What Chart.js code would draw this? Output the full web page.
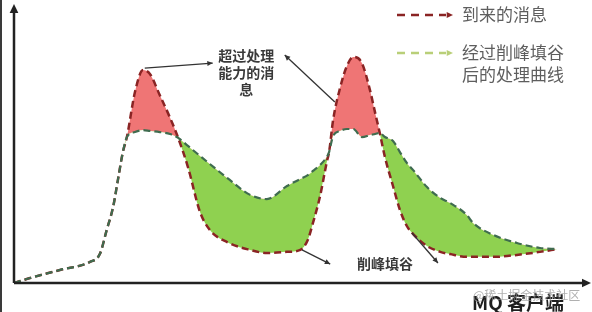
<!DOCTYPE html>
<html>
<head>
<meta charset="utf-8">
<script src="https://cdn.jsdelivr.net/npm/chart.js@4.4.1/dist/chart.umd.min.js"></script>
<style>
html,body{margin:0;padding:0;background:#fff;}
#wrap{position:relative;width:592px;height:312px;}
canvas{display:block;}
</style>
</head>
<body>
<div id="wrap"><canvas id="c" width="592" height="312"></canvas></div>
<script>
// time axis (arbitrary units 0..100)
const times = [0,2.8,8.0,13.2,14.9,16.1,17.2,18.1,18.9,19.6,21.0,22.4,23.6,25.3,27.1,28.5,30.2,32.3,34.0,37.0,41.0,43.9,47.4,49.7,51.0,51.9,53.1,54.3,54.7,55.4,56.6,57.8,58.9,60.4,61.8,62.7,63.5,64.4,65.8,67.0,68.2,69.3,71.7,74.0,75.7,78.6,79.7,83.2,87.3,91.3,94.3];
// incoming messages (red dashed)
const incoming = [0,1.8,4.7,7.6,10.4,19.1,27.3,37.8,47.1,52.5,68.7,76.6,75.2,67.6,59.4,52.2,41.7,25.5,19.1,14.7,11.9,10.8,11.2,11.9,15.5,21.6,30.9,43.5,47.1,58.6,70.1,78.1,81.3,79.1,69.4,61.2,54.0,45.3,34.9,26.3,20.5,17.6,13.3,11.2,10.4,9.4,9.4,9.4,10.1,11.2,12.2];
// processed curve after peak shaving / valley filling (green dashed)
const processed = [0,1.8,4.7,7.6,10.4,19.1,27.3,37.8,47.1,52.5,54.3,55.0,54.7,54.3,53.6,52.2,49.3,45.7,42.8,37.8,31.7,30.2,34.9,37.4,38.8,40.3,42.4,45.3,47.1,52.9,54.7,55.4,55.4,52.5,53.2,53.6,54.0,52.5,51.1,47.1,43.2,40.6,34.5,30.6,28.8,24.5,21.6,17.3,14.4,12.6,12.2];

const seriesNames = ['到来的消息', '经过削峰填谷后的处理曲线'];
const legendLines = [['到来的消息'], ['经过削峰填谷', '后的处理曲线']];
const noteOver = ['超过处理', '能力的消', '息'];
const noteValley = '削峰填谷';
const xAxisLabel = ['MQ', '客户端'];
const watermark = '@稀土掘金技术社区';

const RED_LINE = '#8a2424';
const GREEN_LINE = '#3f6c4f';
const RED_FILL = '#ef7575';
const GREEN_FILL = '#8fd150';

function arrowHead(ctx, x1, y1, x2, y2, size) {
  const a = Math.atan2(y2 - y1, x2 - x1);
  ctx.beginPath();
  ctx.moveTo(x2, y2);
  ctx.lineTo(x2 - size * Math.cos(a - 0.45), y2 - size * Math.sin(a - 0.45));
  ctx.lineTo(x2 - size * Math.cos(a + 0.45), y2 - size * Math.sin(a + 0.45));
  ctx.closePath();
  ctx.fill();
}

const decor = {
  id: 'decor',
  afterDraw(chart) {
    const ctx = chart.ctx;
    const xs = chart.scales.x, ys = chart.scales.y;
    const X = v => xs.getPixelForValue(v), Y = v => ys.getPixelForValue(v);
    const ca = chart.chartArea;
    ctx.save();
    // image left border
    ctx.fillStyle = '#3a3a3a';
    ctx.fillRect(0, 0, 2, 312);
    // axes
    ctx.strokeStyle = '#222'; ctx.fillStyle = '#222'; ctx.lineWidth = 2.5;
    ctx.beginPath();
    ctx.moveTo(ca.left, ca.bottom); ctx.lineTo(ca.left, ca.top + 6);
    ctx.moveTo(ca.left, ca.bottom); ctx.lineTo(ca.right - 6, ca.bottom);
    ctx.stroke();
    arrowHead(ctx, ca.left, ca.bottom, ca.left, ca.top - 1, 10);
    arrowHead(ctx, ca.left, ca.bottom, ca.right + 1, ca.bottom, 10);

    // annotation leader lines
    ctx.strokeStyle = '#333'; ctx.fillStyle = '#333'; ctx.lineWidth = 1.3;
    const leaders = [
      [22.7, 77.3, 34.5, 79.1],
      [55.7, 65.1, 47.0, 82.0],
      [50.0, 11.9, 54.9, 6.8],
      [69.1, 18.0, 73.6, 7.2]
    ];
    leaders.forEach(l => {
      const x1 = X(l[0]), y1 = Y(l[1]), x2 = X(l[2]), y2 = Y(l[3]);
      ctx.beginPath(); ctx.moveTo(x1, y1); ctx.lineTo(x2, y2); ctx.stroke();
      arrowHead(ctx, x1, y1, x2, y2, 6);
    });

    // annotation texts
    ctx.textAlign = 'center'; ctx.textBaseline = 'middle';
    ctx.fillStyle = '#3a3a3a';
    ctx.font = 'bold 14px "Noto Sans CJK SC"';
    const cx = X(40.3);
    noteOver.forEach((t, i) => ctx.fillText(t, cx, Y(81.7) + i * 17));
    ctx.fillText(noteValley, X(64.4), Y(6.8));

    // legend
    ctx.textAlign = 'left';
    ctx.font = '17px "Noto Sans CJK SC"';
    const legendItems = [
      {color: RED_LINE, y: 15, lines: legendLines[0]},
      {color: '#b9cf78', y: 53, lines: legendLines[1]}
    ];
    legendItems.forEach(it => {
      ctx.strokeStyle = it.color; ctx.fillStyle = it.color; ctx.lineWidth = 2.5;
      ctx.setLineDash([8, 6]);
      ctx.beginPath(); ctx.moveTo(397, it.y); ctx.lineTo(446, it.y); ctx.stroke();
      ctx.setLineDash([]);
      arrowHead(ctx, 440, it.y, 453, it.y, 7);
      ctx.fillStyle = '#5e5e5e';
      it.lines.forEach((t, i) => ctx.fillText(t, 462, it.y + i * 22));
    });

    // x axis label + watermark
    ctx.fillStyle = '#1e1e1e';
    ctx.font = 'bold 19px "Noto Sans CJK SC"';
    ctx.fillText(xAxisLabel[0], 472, 303);
    ctx.fillText(xAxisLabel[1], 507, 303);
    ctx.fillStyle = 'rgba(150,150,150,0.75)';
    ctx.font = '12px "Noto Sans CJK SC"';
    ctx.fillText(watermark, 473, 295);
    ctx.restore();
  }
};

new Chart(document.getElementById('c'), {
  type: 'line',
  data: {
    labels: times,
    datasets: [
      {
        label: seriesNames[0],
        data: times.map((t, i) => ({x: t, y: incoming[i]})),
        borderColor: RED_LINE,
        borderWidth: 2.5,
        borderDash: [7, 4],
        pointRadius: 0,
        cubicInterpolationMode: 'monotone',
        fill: {target: 1, above: RED_FILL, below: GREEN_FILL},
        order: 1
      },
      {
        label: seriesNames[1],
        data: times.map((t, i) => ({x: t, y: processed[i]})),
        borderColor: GREEN_LINE,
        borderWidth: 2.2,
        borderDash: [7, 4],
        pointRadius: 0,
        cubicInterpolationMode: 'monotone',
        fill: false,
        order: 0
      }
    ]
  },
  options: {
    responsive: false,
    animation: false,
    layout: {padding: {left: 14, right: 2, top: 5, bottom: 29}},
    plugins: {legend: {display: false}, tooltip: {enabled: false}},
    scales: {
      x: {type: 'linear', min: 0, max: 100, display: false},
      y: {min: 0, max: 100, display: false}
    }
  },
  plugins: [decor]
});
</script>
</body>
</html>
